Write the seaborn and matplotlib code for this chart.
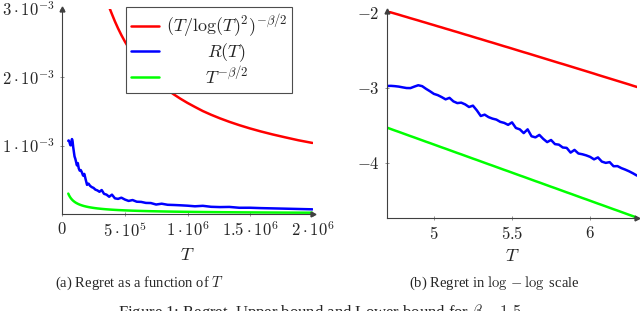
import numpy as np
import pandas as pd
import matplotlib
matplotlib.use('Agg')
import matplotlib.pyplot as plt
import seaborn as sns

# log10(T) sample points
log_t = [4.700, 4.725, 4.750, 4.775, 4.800, 4.825, 4.850, 4.875, 4.900,
         4.925, 4.950, 4.975, 5.000, 5.025, 5.050, 5.075, 5.100, 5.125,
         5.150, 5.175, 5.200, 5.225, 5.250, 5.275, 5.300, 5.325, 5.350,
         5.375, 5.400, 5.425, 5.450, 5.475, 5.500, 5.525, 5.550, 5.575,
         5.600, 5.625, 5.650, 5.675, 5.700, 5.725, 5.750, 5.775, 5.800,
         5.825, 5.850, 5.875, 5.900, 5.925, 5.950, 5.975, 6.000, 6.025,
         6.050, 6.075, 6.100, 6.125, 6.150, 6.175, 6.200, 6.225, 6.250,
         6.275, 6.300]

# log10 of the upper bound (T/log(T)^2)^(-beta/2)
log_upper = [-1.974, -1.989, -2.004, -2.019, -2.035, -2.050, -2.066, -2.081,
             -2.096, -2.112, -2.127, -2.143, -2.158, -2.174, -2.189, -2.205,
             -2.220, -2.236, -2.251, -2.267, -2.283, -2.298, -2.314, -2.330,
             -2.345, -2.361, -2.377, -2.392, -2.408, -2.424, -2.440, -2.455,
             -2.471, -2.487, -2.503, -2.519, -2.534, -2.550, -2.566, -2.582,
             -2.598, -2.614, -2.630, -2.646, -2.662, -2.677, -2.693, -2.709,
             -2.725, -2.741, -2.757, -2.773, -2.789, -2.805, -2.822, -2.838,
             -2.854, -2.870, -2.886, -2.902, -2.918, -2.934, -2.950, -2.967,
             -2.983]

# log10 of the lower bound T^(-beta/2)
log_lower = [-3.525, -3.544, -3.563, -3.581, -3.600, -3.619, -3.638, -3.656,
             -3.675, -3.694, -3.713, -3.731, -3.750, -3.769, -3.788, -3.806,
             -3.825, -3.844, -3.863, -3.881, -3.900, -3.919, -3.938, -3.956,
             -3.975, -3.994, -4.013, -4.031, -4.050, -4.069, -4.088, -4.106,
             -4.125, -4.144, -4.163, -4.181, -4.200, -4.219, -4.238, -4.256,
             -4.275, -4.294, -4.313, -4.331, -4.350, -4.369, -4.388, -4.406,
             -4.425, -4.444, -4.463, -4.481, -4.500, -4.519, -4.538, -4.556,
             -4.575, -4.594, -4.613, -4.631, -4.650, -4.669, -4.688, -4.706,
             -4.725]

# log10 of the measured regret R(T)
log_regret = [-2.970, -2.968, -2.972, -2.978, -2.988, -2.997, -2.998, -2.978,
              -2.960, -2.972, -3.008, -3.040, -3.075, -3.092, -3.118, -3.148,
              -3.128, -3.175, -3.198, -3.192, -3.215, -3.250, -3.232, -3.295,
              -3.370, -3.352, -3.385, -3.405, -3.418, -3.448, -3.462, -3.488,
              -3.455, -3.530, -3.548, -3.598, -3.548, -3.640, -3.655, -3.622,
              -3.675, -3.718, -3.690, -3.745, -3.752, -3.790, -3.795, -3.858,
              -3.822, -3.870, -3.880, -3.895, -3.915, -3.948, -3.922, -3.978,
              -3.995, -3.985, -4.040, -4.038, -4.065, -4.085, -4.108, -4.135,
              -4.165]

df = pd.DataFrame({'logT': log_t, 'upper': log_upper,
                   'regret': log_regret, 'lower': log_lower})
df['T'] = 10 ** df['logT']
for c in ('upper', 'regret', 'lower'):
    df[c + '_lin'] = 10 ** df[c]

sns.set_style('ticks')
plt.rcParams['font.family'] = ['Liberation Serif', 'DejaVu Serif']
plt.rcParams['mathtext.fontset'] = 'cm'

W, H = 640, 311
fig = plt.figure(figsize=(6.4, 3.11), dpi=100)
ax1 = fig.add_axes([62 / W, 1 - 214 / H, 251 / W, 205 / H])
ax2 = fig.add_axes([387 / W, 1 - 218 / H, 250 / W, 207 / H])

lw = 1.8
series = [('upper', '#ff0000', r'$(T/\log(T)^2)^{-\beta/2}$'),
          ('regret', '#0000ff', r'$R(T)$'),
          ('lower', '#00ff00', r'$T^{-\beta/2}$')]

for col, colour, label in series:
    # (a) linear scale
    sns.lineplot(data=df, x='T', y=col + '_lin', color=colour, lw=lw,
                 ax=ax1, label=label)
    # (b) log-log scale
    sns.lineplot(data=df, x='logT', y=col, color=colour, lw=lw, ax=ax2)

ax1.set_xlim(0, 2.0e6)
ax1.set_ylim(0, 3e-3)
ax1.set_xticks([0, 5e5, 1e6, 1.5e6, 2e6])
ax1.set_xticklabels([r'$0$', r'$5\cdot10^{5}$', r'$1\cdot10^{6}$',
                     r'$1.5\cdot10^{6}$', r'$2\cdot10^{6}$'])
ax1.set_yticks([1e-3, 2e-3, 3e-3])
ax1.set_yticklabels([r'$1\cdot10^{-3}$', r'$2\cdot10^{-3}$', r'$3\cdot10^{-3}$'])

ax2.set_xlim(4.7, 6.3)
ax2.set_ylim(-4.73, -1.97)
ax2.set_xticks([5, 5.5, 6])
ax2.set_xticklabels([r'$5$', r'$5.5$', r'$6$'])
ax2.set_yticks([-2, -3, -4])
ax2.set_yticklabels([r'$-2$', r'$-3$', r'$-4$'])

for ax in (ax1, ax2):
    sns.despine(ax=ax)
    for s in ('left', 'bottom'):
        ax.spines[s].set_color('0.25')
        ax.spines[s].set_linewidth(0.8)
    ax.tick_params(direction='inout', length=3, width=0.5, color='0.4',
                   labelsize=12, pad=4)
    ax.set_xlabel(r'$T$', fontsize=13, labelpad=4)
    ax.set_ylabel('')
    ax.plot(1, 0, '>', color='0.25', ms=3.5, transform=ax.transAxes, clip_on=False)
    ax.plot(0, 1, '^', color='0.25', ms=3.5, transform=ax.transAxes, clip_on=False)

leg = ax1.legend(loc='upper left', bbox_to_anchor=(126 / W, 1 - 7 / H),
                 bbox_transform=fig.transFigure, borderaxespad=0,
                 fancybox=False, framealpha=1, edgecolor='0.3',
                 fontsize=13, handlelength=1.5, handletextpad=0.4,
                 labelspacing=0.05, borderpad=0.3)
leg.get_frame().set_linewidth(0.8)
for line in leg.get_lines():
    line.set_linewidth(lw)

# center the legend entries like pgfplots does
fig.canvas.draw()
texts = leg.get_texts()
widths = [t.get_window_extent().width for t in texts]
wmax = max(widths)
for t, w in zip(texts, widths):
    t.set_position(((wmax - w) / 2, 0))

fig.text(140 / W, 1 - 283 / H, r'(a) Regret as a function of $T$',
         ha='center', va='center', fontsize=10.5)
fig.text(494 / W, 1 - 283 / H, r'(b) Regret in $\log-\log$ scale',
         ha='center', va='center', fontsize=10.5)
fig.text(0.5, 1 - 302 / H,
         r'Figure 1: Regret, Upper bound and Lower bound for $\beta = 1.5$',
         ha='center', va='top', fontsize=12)

fig.savefig('out.png', dpi=100)
